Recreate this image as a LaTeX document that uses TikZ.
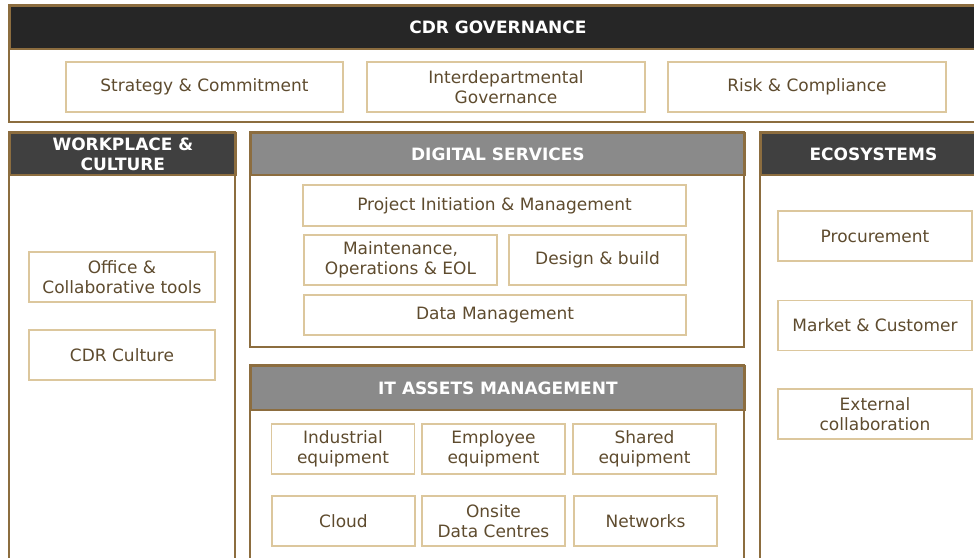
\documentclass[tikz,border=0pt]{standalone}
\usepackage{fontspec}
\setmainfont{DejaVu Sans}
\usetikzlibrary{positioning}
\definecolor{mbrown}{HTML}{8C6D3F}
\definecolor{mtan}{HTML}{DCC79D}
\definecolor{mtext}{HTML}{5E4B2E}
\definecolor{mdark}{HTML}{262626}
\definecolor{mgrey}{HTML}{404040}
\definecolor{mlight}{HTML}{8A8A8A}
\tikzset{frame/.style = {draw=mbrown, line width=1.8pt}}
\tikzset{head/.style = {frame, text=white, anchor=north west, inner sep=0,
                        font=\bfseries\fontsize{17}{20}\selectfont, align=center}}
\tikzset{item/.style = {draw=mtan, line width=1.5pt, text=mtext, inner sep=0,
                        font=\fontsize{17}{20}\selectfont, align=center,
                        minimum height=50}}

\begin{document}
\begin{tikzpicture}[x=1pt, y=-1pt]
    \useasboundingbox (0, 0) rectangle (974, 557);
    \clip (0, 0) rectangle (974, 557);
    % headers
    \node [head, fill=mdark, minimum width=976, minimum height=43] (gov) at (9, 5) {CDR GOVERNANCE};
    \node [head, fill=mgrey, minimum width=226, minimum height=42] (work) at (9, 132) {WORKPLACE \&\\CULTURE};
    \node [head, fill=mlight, minimum width=494, minimum height=42] (digi) at (250, 132) {DIGITAL SERVICES};
    \node [head, fill=mgrey, minimum width=225, minimum height=42] (eco) at (760, 132) {ECOSYSTEMS};
    \node [head, fill=mlight, minimum width=494, minimum height=44] (itam) at (250, 365) {IT ASSETS MANAGEMENT};
    % frames
    \draw [frame] (gov.north west) rectangle (985, 122);
    \draw [frame] (work.north west) rectangle (235, 570);
    \draw [frame] (digi.north west) rectangle (744, 347);
    \draw [frame] (eco.north west) rectangle (985, 570);
    \draw [frame] (itam.north west) rectangle (744, 570);
    % governance
    \node [item, minimum width=277] (strat) at (204.5, 87) {Strategy \& Commitment};
    \node [item, minimum width=278] (inter) at (506, 87) {Interdepartmental\\Governance};
    \node [item, minimum width=278] (risk) at (807, 87) {Risk \& Compliance};
    % workplace
    \node [item, minimum width=186] (office) at (122, 277) {Office \&\\Collaborative tools};
    \node [item, minimum width=186] (culture) at (122, 355) {CDR Culture};
    % digital services
    \node [item, minimum width=383, minimum height=41] (proj) at (494.5, 205.5) {Project Initiation \& Management};
    \node [item, minimum width=193] (maint) at (400.5, 260) {Maintenance,\\Operations \& EOL};
    \node [item, minimum width=177] (design) at (597.5, 260) {Design \& build};
    \node [item, minimum width=382, minimum height=40] (data) at (495, 315) {Data Management};
    % ecosystems
    \foreach \name/\y/\txt in {proc/236/Procurement, market/325.5/{Market \& Customer},
                               extern/414/{External\\collaboration}} {
      \node [item, minimum width=194] (\name) at (875, \y) {\txt};
    }
    % it assets
    \foreach \name/\x/\y/\txt in {indus/343/449/{Industrial\\equipment}, empl/493.5/449/{Employee\\equipment},
                                  shared/644.5/449/{Shared\\equipment}, cloud/343.5/521/Cloud,
                                  onsite/493.5/521/{Onsite\\Data Centres}, netw/645.5/521/Networks} {
      \node [item, minimum width=143] (\name) at (\x, \y) {\txt};
    }
\end{tikzpicture}
\end{document}
